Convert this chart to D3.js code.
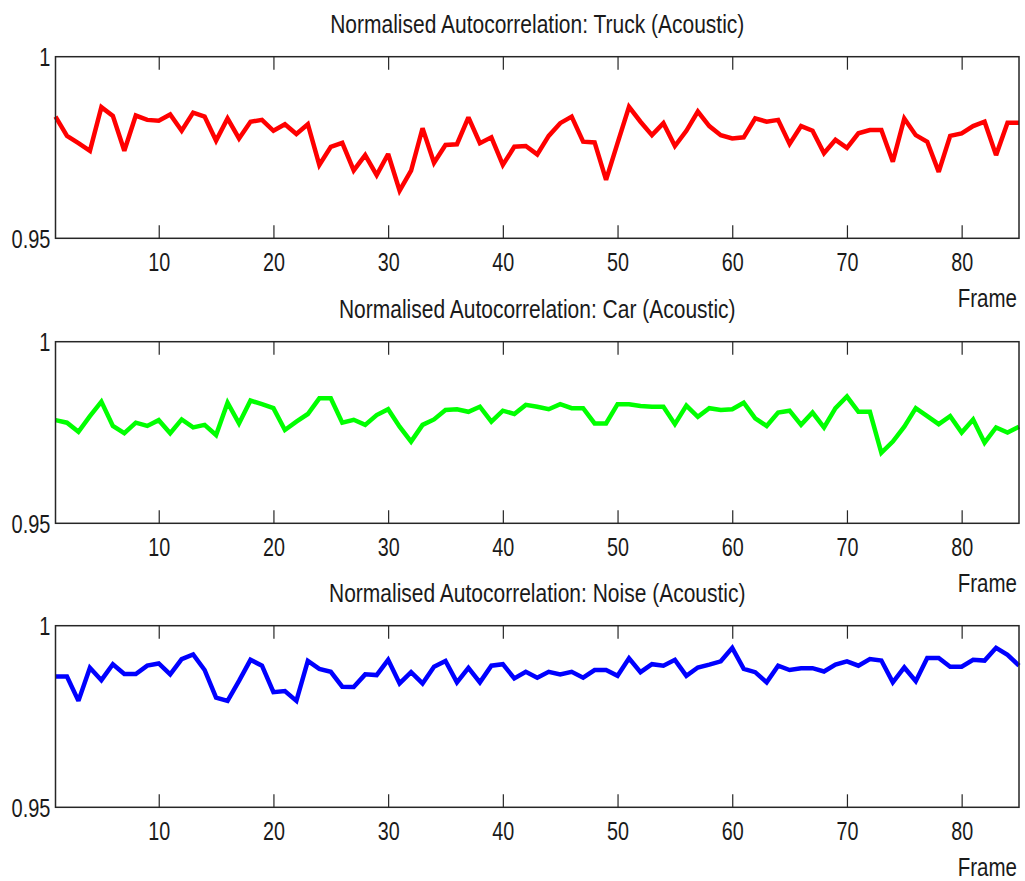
<!DOCTYPE html>
<html>
<head>
<meta charset="utf-8">
<script src="https://cdn.jsdelivr.net/npm/d3@7"></script>
<style>
  html, body { margin: 0; padding: 0; background: #ffffff; }
  svg { display: block; }
  text { font-family: "Liberation Sans", Arial, sans-serif; fill: #1a1a1a; }
</style>
</head>
<body>
<svg id="chart" width="1025" height="881"></svg>
<script>
// Frame index shared by all three panels
const frames = d3.range(1, 86);

// Normalised autocorrelation per frame
const truck = [
  0.9835, 0.9782, 0.9762, 0.9741, 0.9861, 0.9837, 0.9741, 0.9838, 0.9826, 0.9824,
  0.9841, 0.9796, 0.9846, 0.9835, 0.9769, 0.9830, 0.9775, 0.9821, 0.9826, 0.9796,
  0.9814, 0.9787, 0.9814, 0.9702, 0.9752, 0.9763, 0.9687, 0.9729, 0.9674, 0.9732,
  0.9631, 0.9686, 0.9803, 0.9708, 0.9757, 0.9759, 0.9833, 0.9762, 0.9778, 0.9702,
  0.9752, 0.9754, 0.9731, 0.9782, 0.9817, 0.9835, 0.9766, 0.9764, 0.9661, 0.9762,
  0.9862, 0.9821, 0.9784, 0.9817, 0.9754, 0.9796, 0.9849, 0.9809, 0.9784, 0.9775,
  0.9778, 0.9830, 0.9821, 0.9826, 0.9760, 0.9809, 0.9796, 0.9734, 0.9771, 0.9749,
  0.9789, 0.9798, 0.9798, 0.9711, 0.9830, 0.9784, 0.9766, 0.9683, 0.9782, 0.9789,
  0.9809, 0.9821, 0.9729, 0.9818, 0.9818
];

const car = [
  0.9784, 0.9777, 0.9752, 0.9795, 0.9835, 0.9768, 0.9748, 0.9777, 0.9768, 0.9784,
  0.9748, 0.9786, 0.9764, 0.9771, 0.9743, 0.9832, 0.9775, 0.9838, 0.9828, 0.9817,
  0.9757, 0.9780, 0.9801, 0.9844, 0.9844, 0.9777, 0.9785, 0.9771, 0.9798, 0.9814,
  0.9766, 0.9725, 0.9771, 0.9786, 0.9812, 0.9814, 0.9807, 0.9821, 0.9780, 0.9810,
  0.9801, 0.9826, 0.9821, 0.9814, 0.9828, 0.9817, 0.9817, 0.9775, 0.9775, 0.9828,
  0.9828, 0.9823, 0.9821, 0.9821, 0.9773, 0.9824, 0.9793, 0.9817, 0.9812, 0.9814,
  0.9832, 0.9789, 0.9768, 0.9805, 0.9810, 0.9771, 0.9805, 0.9764, 0.9817, 0.9849,
  0.9807, 0.9807, 0.9694, 0.9725, 0.9766, 0.9817, 0.9795, 0.9773, 0.9795, 0.9750,
  0.9786, 0.9722, 0.9764, 0.9750, 0.9766
];

const noise = [
  0.9860, 0.9860, 0.9793, 0.9884, 0.9850, 0.9894, 0.9867, 0.9867, 0.9890, 0.9896,
  0.9866, 0.9908, 0.9921, 0.9878, 0.9802, 0.9793, 0.9848, 0.9906, 0.9890, 0.9817,
  0.9820, 0.9793, 0.9903, 0.9881, 0.9873, 0.9832, 0.9831, 0.9866, 0.9864, 0.9906,
  0.9841, 0.9872, 0.9841, 0.9887, 0.9903, 0.9844, 0.9884, 0.9844, 0.9890, 0.9894,
  0.9855, 0.9873, 0.9857, 0.9873, 0.9866, 0.9873, 0.9857, 0.9878, 0.9878, 0.9862,
  0.9910, 0.9872, 0.9894, 0.9890, 0.9906, 0.9862, 0.9885, 0.9893, 0.9902, 0.9939,
  0.9881, 0.9872, 0.9844, 0.9890, 0.9878, 0.9883, 0.9883, 0.9874, 0.9893, 0.9902,
  0.9890, 0.9908, 0.9904, 0.9844, 0.9885, 0.9847, 0.9911, 0.9911, 0.9887, 0.9887,
  0.9906, 0.9904, 0.9939, 0.9920, 0.9890
];

const titles = [
  "Normalised Autocorrelation: Truck (Acoustic)",
  "Normalised Autocorrelation: Car (Acoustic)",
  "Normalised Autocorrelation: Noise (Acoustic)"
];
const xTicks = [10, 20, 30, 40, 50, 60, 70, 80];
const yTicks = [0.95, 1];
const xLabel = "Frame";

const series = [truck, car, noise];
const colors = ["#ff0000", "#00ff00", "#0000ff"];

// Layout
const left = 55.5, right = 1019;
const panelTops = [56.7, 341.7, 625.7];
const panelH = 181.6;
const tickLen = 13;
const fontSize = 25;

const svg = d3.select("#chart");

const x = d3.scaleLinear().domain([1, 85]).range([left, right]);

// Narrow lettering: place text at (px, py) and compress it horizontally by k
function placeNarrow(sel, px, py, k) {
  sel.attr("x", 0).attr("y", 0)
     .attr("transform", `translate(${px},${py}) scale(${k},1)`);
}

series.forEach((vals, i) => {
  const top = panelTops[i];
  const bottom = top + panelH;
  const y = d3.scaleLinear().domain([0.95, 1]).range([bottom, top]);
  const g = svg.append("g");

  // data line
  const line = d3.line()
    .x((d, j) => x(frames[j]))
    .y(d => y(d));
  g.append("path")
    .datum(vals)
    .attr("d", line)
    .attr("fill", "none")
    .attr("stroke", colors[i])
    .attr("stroke-width", 4.5)
    .attr("stroke-linejoin", "miter")
    .attr("stroke-miterlimit", 2.5);

  // bottom axis with inward ticks
  const xb = g.append("g")
    .attr("transform", `translate(0,${bottom})`)
    .call(d3.axisBottom(x).tickValues(xTicks).tickSizeInner(-tickLen).tickSizeOuter(0).tickPadding(0));
  xb.select(".domain").remove();
  xb.selectAll(".tick line").attr("stroke", "#262626").attr("stroke-width", 1.2);
  xb.selectAll(".tick text")
    .attr("dy", null)
    .attr("font-size", fontSize).attr("fill", "#1a1a1a")
    .call(placeNarrow, 0, 33, 0.79);

  // top axis ticks (no labels)
  const xt = g.append("g")
    .attr("transform", `translate(0,${top})`)
    .call(d3.axisTop(x).tickValues(xTicks).tickSizeInner(-tickLen).tickSizeOuter(0).tickFormat(""));
  xt.select(".domain").remove();
  xt.selectAll(".tick line").attr("stroke", "#262626").attr("stroke-width", 1.2);

  // left axis labels
  const yl = g.append("g")
    .attr("transform", `translate(${left},0)`)
    .call(d3.axisLeft(y).tickValues(yTicks).tickSize(0)
      .tickFormat(d => d === 1 ? "1" : d3.format(".2f")(d)));
  yl.select(".domain").remove();
  yl.selectAll(".tick text")
    .attr("dy", null)
    .attr("font-size", fontSize).attr("fill", "#1a1a1a")
    .call(placeNarrow, -5, 9, 0.80);

  // plot box
  g.append("rect")
    .attr("x", left).attr("y", top)
    .attr("width", right - left).attr("height", panelH)
    .attr("fill", "none")
    .attr("stroke", "#262626")
    .attr("stroke-width", 1.5);

  // title
  g.append("text")
    .attr("text-anchor", "middle")
    .attr("font-size", fontSize)
    .text(titles[i])
    .call(placeNarrow, (left + right) / 2, top - 23.5, 0.84);

  // x-axis label
  g.append("text")
    .attr("text-anchor", "end")
    .attr("font-size", fontSize)
    .text(xLabel)
    .call(placeNarrow, 1017, bottom + 68.5, 0.82);
});
</script>
</body>
</html>
